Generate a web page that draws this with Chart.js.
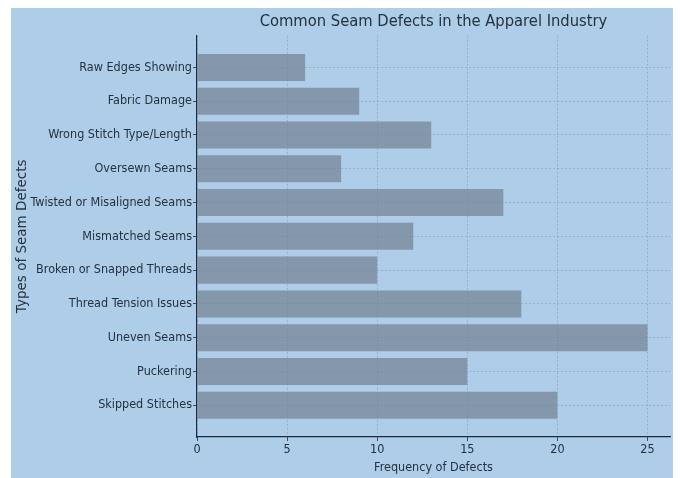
<!DOCTYPE html>
<html>
<head>
<meta charset="utf-8">
<script src="https://cdn.jsdelivr.net/npm/chart.js@4/dist/chart.umd.min.js"></script>
<style>
  html, body { margin: 0; padding: 0; background: #ffffff; }
  #wrap { position: absolute; left: 11px; top: 8px; width: 662px; height: 470px; background: #aecde8; }
</style>
</head>
<body>
<div id="wrap"><canvas id="seamChart" width="662" height="470"></canvas></div>
<script>
// categorias de abajo hacia arriba (como en el grafico original)
const defectTypes = [
    'Skipped Stitches',
    'Puckering',
    'Uneven Seams',
    'Thread Tension Issues',
    'Broken or Snapped Threads',
    'Mismatched Seams',
    'Twisted or Misaligned Seams',
    'Oversewn Seams',
    'Wrong Stitch Type/Length',
    'Fabric Damage',
    'Raw Edges Showing'
];
const defectFrequency = [20, 15, 25, 18, 10, 12, 17, 8, 13, 9, 6];
const xTicks = [0, 5, 10, 15, 20, 25];

const fontFam = "'DejaVu Sans Condensed', 'DejaVu Sans', sans-serif";
const textColor = '#26313d';
const gridColor = 'rgba(105, 125, 150, 0.45)';

const ctx = document.getElementById('seamChart').getContext('2d');

new Chart(ctx, {
    type: 'bar',
    data: {
        datasets: [{
            label: 'Frequency',
            data: defectFrequency.map((v, i) => ({ x: v, y: i })),
            backgroundColor: 'rgba(115, 129, 146, 0.7)',
            borderWidth: 0,
            barPercentage: 0.8,
            categoryPercentage: 1
        }]
    },
    options: {
        indexAxis: 'y',
        responsive: false,
        animation: false,
        layout: { padding: { top: 0, right: 3, left: 0, bottom: 0 } },
        plugins: {
            legend: { display: false },
            tooltip: { enabled: false },
            title: {
                display: true,
                text: 'Common Seam Defects in the Apparel Industry',
                fullSize: false,
                color: textColor,
                font: { family: fontFam, size: 16.4, weight: 'normal' },
                padding: { top: 4, bottom: 4 }
            }
        },
        scales: {
            x: {
                type: 'linear',
                min: 0,
                max: 26.25,
                afterFit: (axis) => { axis.height = 41; },
                afterBuildTicks: (axis) => { axis.ticks = xTicks.map(v => ({ value: v })); },
                border: { display: true, color: '#1f2a36', width: 1.2, dash: [2, 2] },
                grid: {
                    color: gridColor,
                    lineWidth: 0.8,
                    tickColor: '#1f2a36',
                    tickLength: 4,
                    tickBorderDash: []
                },
                ticks: {
                    color: textColor,
                    font: { family: fontFam, size: 12.5 },
                    padding: 1,
                    maxRotation: 0
                },
                title: {
                    display: true,
                    text: 'Frequency of Defects',
                    color: textColor,
                    font: { family: fontFam, size: 12.5 },
                    padding: { top: 0, bottom: 3 }
                }
            },
            y: {
                type: 'linear',
                min: -0.94,
                max: 10.94,
                offset: false,
                afterFit: (axis) => { axis.width = 186; },
                afterBuildTicks: (axis) => { axis.ticks = defectTypes.map((c, i) => ({ value: i })); },
                border: { display: true, color: '#1f2a36', width: 1.2, dash: [2, 2] },
                grid: {
                    offset: false,
                    color: gridColor,
                    lineWidth: 0.8,
                    tickColor: '#1f2a36',
                    tickLength: 4,
                    tickBorderDash: []
                },
                ticks: {
                    color: textColor,
                    font: { family: fontFam, size: 12.5 },
                    padding: 1,
                    callback: (value) => defectTypes[value]
                },
                title: {
                    display: true,
                    text: 'Types of Seam Defects',
                    color: textColor,
                    font: { family: "'DejaVu Sans', sans-serif", size: 13.5 },
                    padding: { top: 3, bottom: 0 }
                }
            }
        }
    }
});
</script>
</body>
</html>
